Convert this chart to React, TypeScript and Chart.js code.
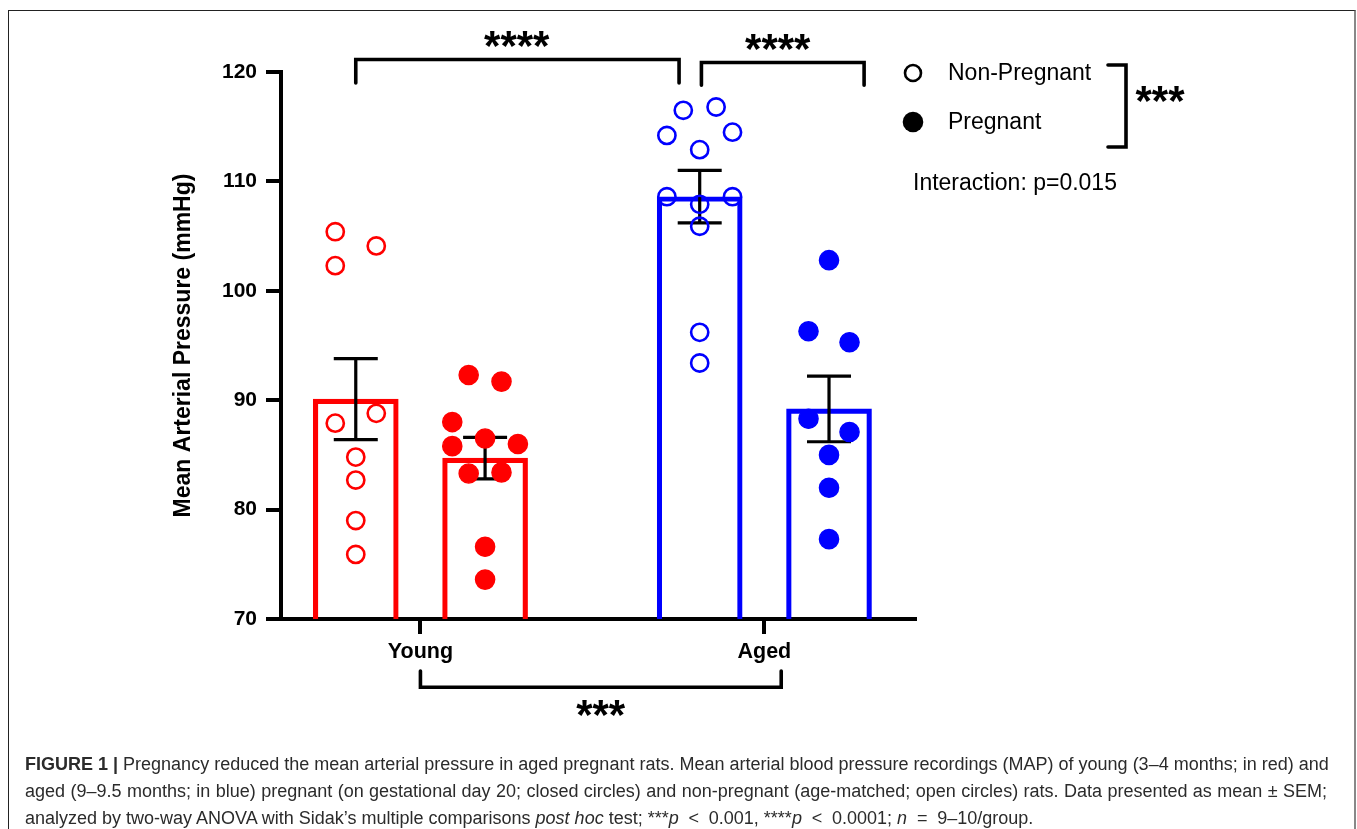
import React, { useEffect, useRef } from "react";
import { Chart, registerables } from "chart.js";

Chart.register(...registerables);

// ---------------- data ----------------
const groups = ["Young", "Aged"];
const conditions = ["Non-Pregnant", "Pregnant"];
const yTickValues = [70, 80, 90, 100, 110, 120];

// individual animals (mmHg)
const youngNonPregnant = [105.4, 104.1, 102.3, 87.9, 88.8, 84.8, 82.7, 79.0, 75.9];
const youngPregnant = [92.3, 91.7, 88.0, 85.8, 86.5, 86.0, 83.3, 83.4, 76.6, 73.6];
const agedNonPregnant = [116.5, 116.8, 114.2, 114.5, 112.9, 108.6, 108.6, 107.9, 105.9, 96.2, 93.4];
const agedPregnant = [102.8, 96.3, 95.3, 88.3, 87.1, 85.0, 82.0, 77.3];

// horizontal scatter columns of each animal (in jitter steps)
const youngNonPregnantJitter = [-1.25, 1.25, -1.25, -1.25, 1.25, 0, 0, 0, 0];
const youngPregnantJitter = [-1, 1, -2, -2, 0, 2, -1, 1, 0, 0];
const agedNonPregnantJitter = [-1, 1, -2, 2, 0, -2, 2, 0, 0, 0, 0];
const agedPregnantJitter = [0, -1.25, 1.25, -1.25, 1.25, 0, 0, 0];

// bar means and SEM: Young NP, Young P, Aged NP, Aged P
const barMeans = [90.1, 84.7, 108.6, 89.2];
const barSems = [3.7, 1.9, 2.4, 3.0];
const barGroup = [0, 0, 1, 1];
const barCondition = [0, 1, 0, 1];

const caption1 =
  "Pregnancy reduced the mean arterial pressure in aged pregnant rats. Mean arterial blood pressure recordings (MAP) of young (3\u20134 months; in red) and";
const caption2 =
  "aged (9\u20139.5 months; in blue) pregnant (on gestational day 20; closed circles) and non-pregnant (age-matched; open circles) rats. Data presented as mean \u00b1 SEM;";

// ---------------- styling / layout constants ----------------
const RED = "#ff0000";
const BLUE = "#0000ff";
const FONT = "'Liberation Sans', Arial, Helvetica, sans-serif";
const BAR_OFFSET = 0.188; // half distance between bars of a group, in x units
const JITTER_STEP = 0.0477; // x units
const groupColor = [RED, BLUE];

const xPos = (g: number, c: number) => g + 1 + (c === 0 ? -1 : 1) * BAR_OFFSET;

const pointSets = [
  { values: youngNonPregnant, jitter: youngNonPregnantJitter, g: 0, c: 0 },
  { values: youngPregnant, jitter: youngPregnantJitter, g: 0, c: 1 },
  { values: agedNonPregnant, jitter: agedNonPregnantJitter, g: 1, c: 0 },
  { values: agedPregnant, jitter: agedPregnantJitter, g: 1, c: 1 },
];

function drawStars(ctx: CanvasRenderingContext2D, text: string, cx: number, cy: number) {
  ctx.font = `bold 42px ${FONT}`;
  const m = ctx.measureText(text);
  ctx.textAlign = "center";
  ctx.textBaseline = "alphabetic";
  ctx.fillText(text, cx, cy + (m.actualBoundingBoxAscent - m.actualBoundingBoxDescent) / 2);
}

const errorBarPlugin = {
  id: "errorBars",
  afterDatasetDraw(chart: any, args: any) {
    if (args.index !== 0) return;
    const { ctx } = chart;
    const x = chart.scales.x;
    const y = chart.scales.y;
    ctx.save();
    ctx.strokeStyle = "#000";
    ctx.lineWidth = 3.2;
    barMeans.forEach((m, i) => {
      const px = x.getPixelForValue(xPos(barGroup[i], barCondition[i]));
      const top = y.getPixelForValue(m + barSems[i]);
      const bot = y.getPixelForValue(m - barSems[i]);
      ctx.beginPath();
      ctx.moveTo(px, top);
      ctx.lineTo(px, bot);
      ctx.moveTo(px - 22, top);
      ctx.lineTo(px + 22, top);
      ctx.moveTo(px - 22, bot);
      ctx.lineTo(px + 22, bot);
      ctx.stroke();
    });
    ctx.restore();
  },
};

const annotationPlugin = {
  id: "annotations",
  afterDraw(chart: any) {
    const { ctx } = chart;
    const x = chart.scales.x;
    const y = chart.scales.y;
    const X = (v: number) => x.getPixelForValue(v);
    const Y = (v: number) => y.getPixelForValue(v);
    ctx.save();
    ctx.strokeStyle = "#000";
    ctx.fillStyle = "#000";
    ctx.lineWidth = 3.6;
    ctx.lineCap = "round";
    ctx.lineJoin = "miter";

    const bracket = (x1: number, x2: number, yH: number, yLeg: number) => {
      ctx.beginPath();
      ctx.moveTo(X(x1), Y(yLeg));
      ctx.lineTo(X(x1), Y(yH));
      ctx.lineTo(X(x2), Y(yH));
      ctx.lineTo(X(x2), Y(yLeg));
      ctx.stroke();
    };
    // Young NP vs Aged NP
    bracket(xPos(0, 0), 1.752, 121.14, 119.0);
    drawStars(ctx, "****", X(1.28), Y(123.0));
    // Aged NP vs Aged P
    bracket(1.817, 2.29, 120.87, 118.8);
    drawStars(ctx, "****", X(2.039), Y(122.75));
    // Young vs Aged (age effect)
    bracket(1, 2.049, 63.76, 65.25);
    drawStars(ctx, "***", X(1.524), Y(61.84));

    // legend
    ctx.lineWidth = 2.6;
    ctx.beginPath();
    ctx.arc(913, 73, 8, 0, Math.PI * 2);
    ctx.stroke();
    ctx.beginPath();
    ctx.arc(913, 122, 10.3, 0, Math.PI * 2);
    ctx.fill();
    ctx.font = `23px ${FONT}`;
    ctx.textAlign = "left";
    ctx.textBaseline = "middle";
    ctx.fillText(conditions[0], 948, 74);
    ctx.fillText(conditions[1], 948, 123);
    ctx.fillText("Interaction: p=0.015", 913, 184);
    ctx.lineWidth = 3.6;
    ctx.lineCap = "round";
    ctx.beginPath();
    ctx.moveTo(1108, 65);
    ctx.lineTo(1126, 65);
    ctx.lineTo(1126, 147);
    ctx.lineTo(1108, 147);
    ctx.stroke();
    drawStars(ctx, "***", 1160, 106);
    ctx.restore();
  },
};

const Rel = ({ s }: { s: string }) => <span style={{ padding: "0 4.8px" }}>{s}</span>;

export default function App() {
  const ref = useRef<HTMLCanvasElement>(null);

  useEffect(() => {
    const canvas = ref.current;
    if (!canvas) return;

    const datasets: any[] = [
      {
        type: "bar",
        data: barMeans.map((m, i) => ({ x: xPos(barGroup[i], barCondition[i]), y: m })),
        barThickness: 85,
        borderWidth: 4.5,
        borderColor: barGroup.map((g) => groupColor[g]),
        backgroundColor: "rgba(0,0,0,0)",
        order: 3,
      },
      ...pointSets.map((s) => ({
        type: "scatter",
        data: s.values.map((v, i) => ({ x: xPos(s.g, s.c) + s.jitter[i] * JITTER_STEP, y: v })),
        pointRadius: s.c === 0 ? 8.6 : 9.6,
        pointBorderWidth: s.c === 0 ? 2.6 : 1.4,
        pointBorderColor: groupColor[s.g],
        pointBackgroundColor: s.c === 0 ? "rgba(0,0,0,0)" : groupColor[s.g],
        showLine: false,
        clip: false,
        order: 1,
      })),
    ];

    const chart = new Chart(canvas, {
      type: "bar",
      data: { datasets },
      options: {
        animation: false,
        responsive: false,
        devicePixelRatio: 1,
        events: [],
        layout: { padding: { left: 0, top: 72, right: 442, bottom: 0 } },
        plugins: { legend: { display: false }, tooltip: { enabled: false } },
        scales: {
          x: {
            type: "linear",
            offset: false,
            min: 0.5946,
            max: 2.438,
            bounds: "data",
            afterFit: (s: any) => {
              s.height = 210;
            },
            afterBuildTicks: (s: any) => {
              s.ticks = groups.map((_, i) => ({ value: i + 1 }));
            },
            ticks: {
              callback: (v: any) => groups[Math.round(Number(v)) - 1] ?? "",
              font: { family: FONT, size: 21.5, weight: "bold" },
              color: "#000",
              padding: 5,
              maxRotation: 0,
              autoSkip: false,
            },
            grid: {
              offset: false,
              drawOnChartArea: false,
              drawTicks: true,
              tickLength: 15,
              lineWidth: 4,
              color: "#000",
            },
            border: { display: true, width: 4, color: "#000" },
          },
          y: {
            type: "linear",
            min: 70,
            max: 120,
            afterFit: (s: any) => {
              s.width = 281;
            },
            afterBuildTicks: (s: any) => {
              s.ticks = yTickValues.map((v) => ({ value: v }));
            },
            ticks: {
              font: { family: FONT, size: 21, weight: "bold" },
              color: "#000",
              padding: 9,
            },
            grid: { drawOnChartArea: false, drawTicks: true, tickLength: 15, lineWidth: 4, color: "#000" },
            border: { display: true, width: 4, color: "#000" },
            title: {
              display: true,
              text: "Mean Arterial Pressure (mmHg)",
              font: { family: FONT, size: 23, weight: "bold" },
              color: "#000",
              padding: { top: 170, bottom: 0 },
            },
          },
        },
      },
      plugins: [errorBarPlugin, annotationPlugin],
    } as any);

    return () => chart.destroy();
  }, []);

  const capStyle: React.CSSProperties = {
    position: "absolute",
    left: 25,
    width: 1302,
    fontFamily: FONT,
    fontSize: 18,
    lineHeight: "27px",
    color: "#2b2b2b",
  };

  return (
    <div style={{ position: "absolute", left: 0, top: 0, width: 1357, height: 829, background: "#fff", overflow: "hidden" }}>
      <div
        style={{
          position: "absolute",
          left: 8,
          top: 10,
          width: 1348,
          height: 840,
          boxSizing: "border-box",
          borderTop: "1px solid #222",
          borderLeft: "1px solid #222",
          borderRight: "2px solid #888",
        }}
      />
      <canvas ref={ref} width={1357} height={829} style={{ position: "absolute", left: 0, top: 0, width: 1357, height: 829 }} />
      <div style={{ ...capStyle, top: 751, whiteSpace: "nowrap", textAlign: "justify", textAlignLast: "justify" }}>
        <b>FIGURE 1 |</b> {caption1}
      </div>
      <div style={{ ...capStyle, top: 778, whiteSpace: "nowrap", textAlign: "justify", textAlignLast: "justify" }}>{caption2}</div>
      <div style={{ ...capStyle, top: 805, whiteSpace: "nowrap" }}>
        analyzed by two-way ANOVA with Sidak{"\u2019"}s multiple comparisons <i>post hoc</i> test; ***<i>p</i>
        <Rel s=" < " />
        0.001, ****<i>p</i>
        <Rel s=" < " />
        0.0001; <i>n</i>
        <Rel s=" = " />
        9{"\u2013"}10/group.
      </div>
    </div>
  );
}
